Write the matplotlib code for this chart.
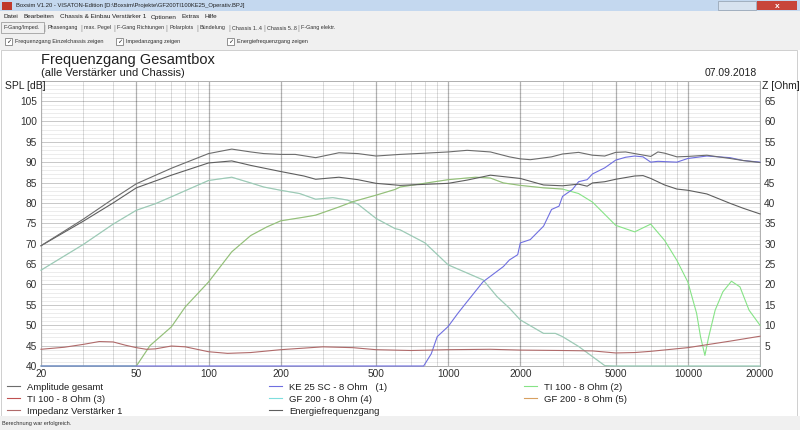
import numpy as np
import matplotlib
matplotlib.use('Agg')
import matplotlib.pyplot as plt
from matplotlib.patches import Rectangle
from matplotlib.ticker import FixedLocator, NullFormatter

plt.rcParams['font.family'] = ['Liberation Sans', 'DejaVu Sans']

# ---- data (SPL in dB, impedance on right axis = SPL - 40) ----
f_amp = [20, 30, 40, 50, 70, 100, 125, 150, 170, 200, 230, 280, 350, 420, 500, 630,
         800, 1000, 1200, 1500, 1800, 2000, 2200, 2700, 3000, 3500, 4000, 4500, 5000,
         5500, 6000, 7000, 7500, 8000, 9000, 10000, 12000, 15000, 17000, 20000]
spl_amp = [69.5, 76, 81, 84.7, 88.5, 92.1, 93.2, 92.5, 92.1, 91.9, 91.9, 91.1, 92.3, 92.1,
           91.5, 91.9, 92.2, 92.5, 92.9, 92.5, 91.3, 90.8, 90.6, 91.3, 92.0, 92.4, 91.7,
           91.5, 92.4, 92.5, 92.1, 91.4, 92.5, 92.2, 91.3, 91.4, 91.7, 90.9, 90.4, 89.9]

f_energy = [20, 30, 40, 50, 70, 100, 125, 150, 200, 250, 280, 350, 420, 500, 630, 1000,
            1200, 1500, 2000, 2500, 3000, 3500, 3800, 4000, 4500, 5000, 6000, 6500, 7000,
            8000, 9000, 10000, 12000, 15000, 17000, 20000]
spl_energy = [69.5, 75.5, 80.0, 83.7, 86.8, 89.8, 90.3, 89.2, 87.7, 86.6, 85.8, 86.3, 85.7,
              84.8, 84.3, 84.8, 85.6, 86.8, 86.0, 84.4, 84.2, 84.6, 84.1, 84.9, 85.2, 85.8,
              86.6, 86.7, 86.0, 84.4, 83.4, 83.1, 82.2, 79.9, 78.7, 77.3]

f_ke25 = [20, 790, 850, 900, 1000, 1100, 1200, 1400, 1500, 1700, 1800, 1950, 2000, 2200,
          2500, 2700, 2900, 3000, 3300, 3500, 3800, 4000, 4500, 5000, 5500, 6000, 6500,
          7000, 7500, 9000, 10000, 12000, 15000, 17000, 20000]
spl_ke25 = [40, 40, 43, 47.2, 49.7, 53, 55.8, 60.7, 62, 64.4, 66, 67.3, 70.2, 71, 74.3,
            78.4, 79.2, 81.6, 83.3, 85.2, 85.7, 87.1, 88.6, 90.5, 91.2, 91.5, 91.3, 90.0,
            90.2, 90.0, 90.9, 91.5, 91.1, 90.4, 90.0]

f_ti100 = [20, 50, 57, 70, 80, 100, 125, 150, 175, 200, 250, 280, 350, 400, 500, 600, 630,
           1000, 1300, 1500, 1700, 2000, 2500, 3000, 3500, 4000, 4500, 5000, 6000, 7000,
           8000, 9000, 10000, 10880, 11300, 11780, 12200, 13000, 14000, 15200, 16500,
           18000, 20000]
spl_ti100_2 = [40, 40, 45, 49.6, 54.5, 60.6, 68, 72, 74.1, 75.6, 76.5, 77, 79, 80.3, 81.9,
               83.3, 83.9, 85.7, 86.3, 86.1, 84.9, 84.3, 83.7, 83.4, 82.3, 80.2, 77.2, 74.5,
               72.9, 74.8, 70.8, 65.9, 60.6, 52.9, 47.1, 42.6, 47, 53.7, 58.2, 60.8, 59.4,
               53.7, 50]

f_ti100_3 = [50, 57, 70, 80, 100, 125, 150, 175, 200, 250, 280, 350, 400, 500, 600, 630,
             1000, 1300, 1500, 1700, 2000, 2500, 3000]
spl_ti100_3 = [40, 45, 49.6, 54.5, 60.6, 68, 72, 74.1, 75.6, 76.5, 77, 79, 80.3, 81.9,
               83.3, 83.9, 85.7, 86.3, 86.1, 84.9, 84.3, 83.7, 83.4]

f_gf200 = [20, 30, 40, 50, 60, 70, 80, 100, 125, 150, 170, 200, 240, 280, 330, 380, 420,
           500, 600, 630, 800, 1000, 1200, 1400, 1600, 1800, 2000, 2500, 2800, 3000, 3500,
           4000, 4500, 5000, 10000, 20000]
spl_gf200_4 = [63.5, 69.8, 74.8, 78.2, 79.8, 81.5, 83, 85.5, 86.3, 84.9, 83.9, 83.1, 82.3,
               80.9, 81.3, 80.7, 79.7, 76.2, 73.7, 73.4, 70.2, 64.8, 62.8, 61.1, 57, 54.2,
               51.3, 48, 48, 47.2, 44.8, 42.3, 40.1, 40, 40, 40]
spl_gf200_5 = list(spl_gf200_4)  # second woofer, identical curve

f_imp = [20, 25, 30, 35, 40, 45, 50, 55, 60, 70, 80, 100, 120, 150, 200, 300, 400, 500, 700,
         1000, 1500, 2000, 3000, 4000, 5000, 6000, 7000, 10000, 15000, 20000]
z_imp = [4.1, 4.6, 5.3, 6.0, 5.9, 5.1, 4.5, 4.1, 4.2, 4.9, 4.7, 3.5, 3.1, 3.3, 4.0, 4.7,
         4.5, 4.0, 3.8, 4.0, 4.1, 3.9, 3.8, 3.7, 3.2, 3.3, 3.6, 4.5, 6.1, 7.3]

x_ticks = [20, 50, 100, 200, 500, 1000, 2000, 5000, 10000, 20000]
spl_ticks = list(range(40, 106, 5))
z_ticks = list(range(5, 66, 5))

legend_col1 = ['Amplitude gesamt', 'TI 100 - 8 Ohm (3)', 'Impedanz Verstärker 1']
legend_col2 = ['KE 25 SC - 8 Ohm   (1)', 'GF 200 - 8 Ohm (4)', 'Energiefrequenzgang']
legend_col3 = ['TI 100 - 8 Ohm (2)', 'GF 200 - 8 Ohm (5)']

W, H = 800, 430
fig = plt.figure(figsize=(W / 100, H / 100), dpi=100)
fig.patch.set_facecolor('white')


def px(x, y):
    return x / W, 1 - y / H


def band(y0, y1, color, x0=0, x1=W, ec='none', z=-10):
    fig.patches.append(Rectangle((x0 / W, 1 - y1 / H), (x1 - x0) / W, (y1 - y0) / H,
                                 transform=fig.transFigure, facecolor=color,
                                 edgecolor=ec, lw=0.6, zorder=z))


# ---- window chrome ----
band(0, 11, '#c4d8ef')
band(11, 22, '#f0f0f0')
band(22, 33, '#f0f0f0')
band(33, 50, '#f0f0f0')
band(50, 416, '#ffffff', x0=1, x1=797, ec='#c8c8c8')
band(416, 430, '#f0f0f0')
band(2, 10, '#c0392b', x0=2, x1=12, z=-5)
band(1, 10, '#c8453a', x0=757, x1=797, z=-5)
band(1, 10, '#d7e2ef', x0=718, x1=756, ec='#9aa8b8', z=-5)
fig.text(*px(16, 6), 'Boxsim V1.20 - VISATON-Edition [D:\\Boxsim\\Projekte\\GF200TI100KE25_Operativ.BPJ]',
         fontsize=4.2, va='center', color='#202020')
fig.text(*px(777, 6), 'x', fontsize=6, va='center', ha='center', color='white', weight='bold')
menu = [(3, 'Datei'), (24, 'Bearbeiten'), (60, 'Chassis & Einbau'), (112, 'Verstärker 1'),
        (151, 'Optionen'), (182, 'Extras'), (205, 'Hilfe')]
for xm, t in menu:
    fig.text(*px(xm, 17), t, fontsize=4.6, va='center', color='#202020')
tabs = [(3, 'F-Gang/Imped.'), (47, 'Phasengang'), (84, 'max. Pegel'), (117, 'F-Gang Richtungen'),
        (169, 'Polarplots'), (200, 'Bündelung'), (232, 'Chassis 1..4'), (267, 'Chassis 5..8'),
        (301, 'F-Gang elektr.')]
for xt, t in tabs:
    fig.text(*px(xt, 28), t, fontsize=3.9, va='center', color='#303030')
    if xt > 3:
        fig.text(*px(xt - 2.5, 28), '|', fontsize=5, va='center', ha='center', color='#909090')
band(22, 33, 'none', x0=1, x1=44, ec='#a0a0a0', z=-5)
for xc, t in [(5, 'Frequenzgang Einzelchassis zeigen'), (116, 'Impedanzgang zeigen'),
              (227, 'Energiefrequenzgang zeigen')]:
    band(38, 45, 'white', x0=xc, x1=xc + 7, ec='#808080', z=-5)
    fig.text(*px(xc + 3.5, 41.5), '✓', fontsize=4.5, va='center', ha='center',
             family=['DejaVu Sans'], color='#202020')
    fig.text(*px(xc + 10, 41.5), t, fontsize=4.0, va='center', color='#303030')
fig.text(*px(2, 423), 'Berechnung war erfolgreich.', fontsize=4, va='center', color='#303030')

# ---- chart ----
left, right, top, bottom = 41, 760, 80.6, 366
ax = fig.add_axes([left / W, 1 - bottom / H, (right - left) / W, (bottom - top) / H])
ax.set_facecolor('white')
ax.set_xscale('log')
ax.set_xlim(20, 20000)
ax.set_ylim(40, 110)

minor_x = [f * m for f in (10, 100, 1000, 10000) for m in range(2, 10)
           if 20 <= f * m <= 20000 and f * m not in x_ticks]
ax.xaxis.set_major_locator(FixedLocator(x_ticks))
ax.xaxis.set_minor_locator(FixedLocator(minor_x))
ax.xaxis.set_minor_formatter(NullFormatter())
ax.set_xticklabels([str(v) for v in x_ticks])
ax.yaxis.set_major_locator(FixedLocator(spl_ticks))
ax.yaxis.set_minor_locator(FixedLocator(list(range(40, 111))))
ax.yaxis.set_minor_formatter(NullFormatter())
# translucent grid so crossings do not hide each other
ax.grid(which='minor', axis='y', color='black', alpha=0.09, lw=0.6)
ax.grid(which='major', axis='y', color='black', alpha=0.22, lw=0.7)
ax.grid(which='minor', axis='x', color='black', alpha=0.14, lw=0.7)
ax.grid(which='major', axis='x', color='black', alpha=0.30, lw=0.9)
ax.set_axisbelow(True)
ax.tick_params(which='both', length=0, labelsize=7.3, colors='#303030', pad=3)
ax.tick_params(axis='x', pad=2)
for s in ax.spines.values():
    s.set_color('#b0b0b0')
    s.set_linewidth(0.7)

ax2 = ax.twinx()
ax2.set_ylim(0, 70)
ax2.yaxis.set_major_locator(FixedLocator(z_ticks))
ax2.tick_params(length=0, labelsize=7.3, colors='#303030', pad=3)
for s in ax2.spines.values():
    s.set_visible(False)

lw = 0.8
l_gf4, = ax.plot(f_gf200, spl_gf200_4, color='#7fdede', lw=lw, label=legend_col2[1])
l_gf5, = ax.plot(f_gf200, spl_gf200_5, color='#d8a060', lw=lw, alpha=0.35, label=legend_col3[1])
l_ti2, = ax.plot(f_ti100, spl_ti100_2, color='#86e386', lw=lw, label=legend_col3[0])
l_ti3, = ax.plot(f_ti100_3, spl_ti100_3, color='#c05050', lw=lw, alpha=0.25, label=legend_col1[1])
l_imp, = ax2.plot(f_imp, z_imp, color='#b06a6a', lw=lw, label=legend_col1[2])
l_ke, = ax.plot(f_ke25, spl_ke25, color='#6f6fe0', lw=lw, label=legend_col2[0])
l_en, = ax.plot(f_energy, spl_energy, color='#5e5e5e', lw=lw, label=legend_col2[2])
l_amp, = ax.plot(f_amp, spl_amp, color='#6c6c6c', lw=lw, label=legend_col1[0])
for ln in ax.lines + ax2.lines:
    ln.set_clip_on(False)
    ln.set_zorder(3)

# ---- titles ----
fig.text(*px(41, 60), 'Frequenzgang Gesamtbox', fontsize=10.5, va='center', color='#202020')
fig.text(*px(41, 73), '(alle Verstärker und Chassis)', fontsize=8, va='center', color='#202020')
fig.text(*px(757, 73), '07.09.2018', fontsize=7.5, va='center', ha='right', color='#202020')
fig.text(*px(5, 86), 'SPL [dB]', fontsize=7.5, va='center', color='#202020')
fig.text(*px(762, 86), 'Z [Ohm]', fontsize=7.5, va='center', color='#202020')

# ---- legend in three columns ----
legend_handles = [[l_amp, l_ti3, l_imp], [l_ke, l_gf4, l_en], [l_ti2, l_gf5]]
for handles, xl in zip(legend_handles, [7, 269, 524]):
    leg = fig.legend(handles=handles, loc='upper left', bbox_to_anchor=px(xl, 382.5),
                     frameon=False, fontsize=6.8, handlelength=1.4, handletextpad=0.75,
                     labelspacing=0.32, borderaxespad=0, borderpad=0)
    for t in leg.get_texts():
        t.set_color('#202020')
    for h in leg.legend_handles:
        h.set_alpha(1)

fig.savefig('out.png', dpi=100)
